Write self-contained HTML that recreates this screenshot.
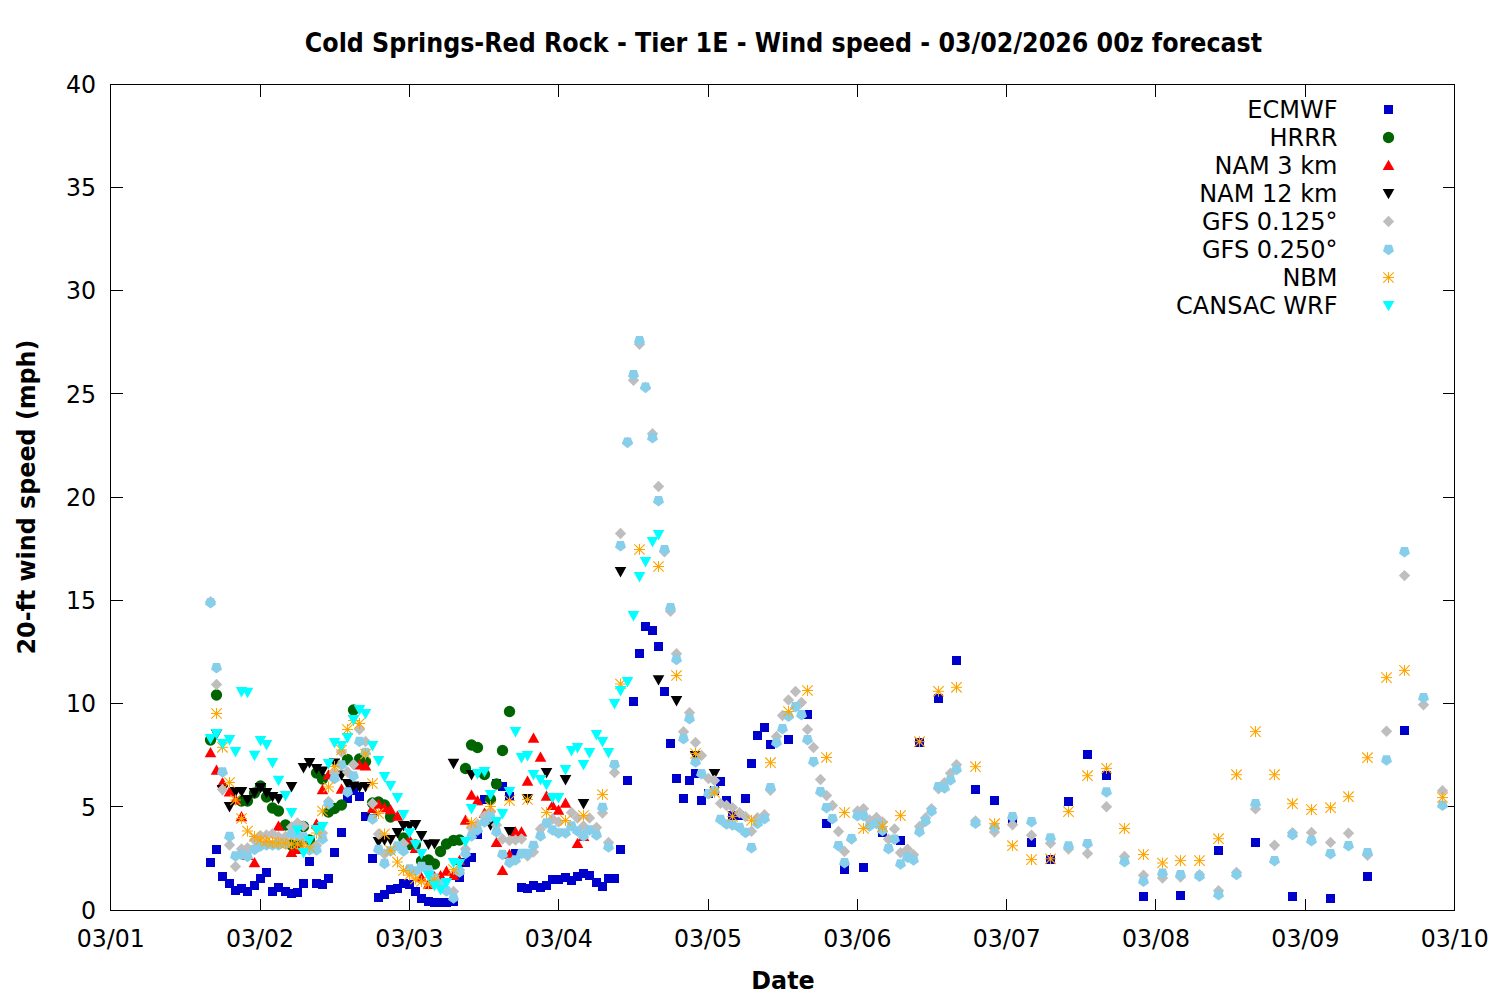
<!DOCTYPE html>
<html><head><meta charset="utf-8"><title>Wind speed forecast</title>
<style>html,body{margin:0;padding:0;background:#fff}svg{display:block}text{font-family:"DejaVu Sans","Liberation Sans",sans-serif;fill:#000}</style></head><body>
<svg width="1500" height="1000" viewBox="0 0 1500 1000">
<rect width="1500" height="1000" fill="#fff"/>
<g stroke="#000" stroke-width="1" fill="none" shape-rendering="crispEdges">
<rect x="110.5" y="84.5" width="1344.0" height="826.0"/>
<path d="M260.5 910.5v-12M260.5 84.5v12"/>
<path d="M409.5 910.5v-12M409.5 84.5v12"/>
<path d="M558.5 910.5v-12M558.5 84.5v12"/>
<path d="M708.5 910.5v-12M708.5 84.5v12"/>
<path d="M857.5 910.5v-12M857.5 84.5v12"/>
<path d="M1006.5 910.5v-12M1006.5 84.5v12"/>
<path d="M1155.5 910.5v-12M1155.5 84.5v12"/>
<path d="M1305.5 910.5v-12M1305.5 84.5v12"/>
<path d="M110.5 806.5h12M1454.5 806.5h-12"/>
<path d="M110.5 703.5h12M1454.5 703.5h-12"/>
<path d="M110.5 600.5h12M1454.5 600.5h-12"/>
<path d="M110.5 497.5h12M1454.5 497.5h-12"/>
<path d="M110.5 393.5h12M1454.5 393.5h-12"/>
<path d="M110.5 290.5h12M1454.5 290.5h-12"/>
<path d="M110.5 187.5h12M1454.5 187.5h-12"/>
</g>
<g font-size="24" text-anchor="end">
<text transform="translate(96.0 918.9) scale(0.985 1.02)">0</text>
<text transform="translate(96.0 815.6) scale(0.985 1.02)">5</text>
<text transform="translate(96.0 712.4) scale(0.985 1.02)">10</text>
<text transform="translate(96.0 609.1) scale(0.985 1.02)">15</text>
<text transform="translate(96.0 505.9) scale(0.985 1.02)">20</text>
<text transform="translate(96.0 402.6) scale(0.985 1.02)">25</text>
<text transform="translate(96.0 299.4) scale(0.985 1.02)">30</text>
<text transform="translate(96.0 196.2) scale(0.985 1.02)">35</text>
<text transform="translate(96.0 92.9) scale(0.985 1.02)">40</text>
</g>
<g font-size="24" text-anchor="middle">
<text transform="translate(110.7 947.1) scale(0.985 1.02)">03/01</text>
<text transform="translate(260.0 947.1) scale(0.985 1.02)">03/02</text>
<text transform="translate(409.4 947.1) scale(0.985 1.02)">03/03</text>
<text transform="translate(558.7 947.1) scale(0.985 1.02)">03/04</text>
<text transform="translate(708.0 947.1) scale(0.985 1.02)">03/05</text>
<text transform="translate(857.4 947.1) scale(0.985 1.02)">03/06</text>
<text transform="translate(1006.7 947.1) scale(0.985 1.02)">03/07</text>
<text transform="translate(1156.0 947.1) scale(0.985 1.02)">03/08</text>
<text transform="translate(1305.4 947.1) scale(0.985 1.02)">03/09</text>
<text transform="translate(1454.7 947.1) scale(0.985 1.02)">03/10</text>
</g>
<text transform="translate(783.5 51.9) scale(1 1.10)" font-size="23.82" font-weight="bold" text-anchor="middle">Cold Springs-Red Rock - Tier 1E - Wind speed - 03/02/2026 00z forecast</text>
<text transform="translate(783 988.8) scale(1 1.04)" font-size="23.82" font-weight="bold" text-anchor="middle">Date</text>
<text transform="translate(34.8 497) rotate(-90) scale(1 1.07)" font-size="23.82" font-weight="bold" text-anchor="middle">20-ft wind speed (mph)</text>
<g font-size="24" text-anchor="end">
<text x="1337.5" y="118">ECMWF</text>
<text x="1337.5" y="146">HRRR</text>
<text x="1337.5" y="174">NAM 3 km</text>
<text x="1337.5" y="202">NAM 12 km</text>
<text x="1337.5" y="230">GFS 0.125°</text>
<text x="1337.5" y="258">GFS 0.250°</text>
<text x="1337.5" y="286">NBM</text>
<text x="1337.5" y="314">CANSAC WRF</text>
</g>
<g fill="#0000cd">
<rect x="1384" y="105" width="9" height="9"/>
<rect x="206" y="858" width="9" height="9"/>
<rect x="212" y="845" width="9" height="9"/>
<rect x="218" y="872" width="9" height="9"/>
<rect x="225" y="879" width="9" height="9"/>
<rect x="231" y="886" width="9" height="9"/>
<rect x="237" y="884" width="9" height="9"/>
<rect x="243" y="887" width="9" height="9"/>
<rect x="250" y="881" width="9" height="9"/>
<rect x="256" y="874" width="9" height="9"/>
<rect x="262" y="868" width="9" height="9"/>
<rect x="268" y="887" width="9" height="9"/>
<rect x="274" y="883" width="9" height="9"/>
<rect x="281" y="887" width="9" height="9"/>
<rect x="287" y="889" width="9" height="9"/>
<rect x="293" y="888" width="9" height="9"/>
<rect x="299" y="879" width="9" height="9"/>
<rect x="305" y="857" width="9" height="9"/>
<rect x="312" y="879" width="9" height="9"/>
<rect x="318" y="880" width="9" height="9"/>
<rect x="324" y="874" width="9" height="9"/>
<rect x="330" y="848" width="9" height="9"/>
<rect x="337" y="828" width="9" height="9"/>
<rect x="343" y="794" width="9" height="9"/>
<rect x="349" y="786" width="9" height="9"/>
<rect x="355" y="792" width="9" height="9"/>
<rect x="361" y="812" width="9" height="9"/>
<rect x="368" y="854" width="9" height="9"/>
<rect x="374" y="893" width="9" height="9"/>
<rect x="380" y="890" width="9" height="9"/>
<rect x="386" y="885" width="9" height="9"/>
<rect x="393" y="884" width="9" height="9"/>
<rect x="399" y="879" width="9" height="9"/>
<rect x="405" y="880" width="9" height="9"/>
<rect x="411" y="887" width="9" height="9"/>
<rect x="417" y="894" width="9" height="9"/>
<rect x="424" y="897" width="9" height="9"/>
<rect x="430" y="898" width="9" height="9"/>
<rect x="436" y="898" width="9" height="9"/>
<rect x="442" y="898" width="9" height="9"/>
<rect x="449" y="897" width="9" height="9"/>
<rect x="455" y="873" width="9" height="9"/>
<rect x="461" y="858" width="9" height="9"/>
<rect x="467" y="853" width="9" height="9"/>
<rect x="473" y="830" width="9" height="9"/>
<rect x="480" y="795" width="9" height="9"/>
<rect x="492" y="779" width="9" height="9"/>
<rect x="498" y="782" width="9" height="9"/>
<rect x="505" y="792" width="9" height="9"/>
<rect x="511" y="849" width="9" height="9"/>
<rect x="517" y="883" width="9" height="9"/>
<rect x="523" y="884" width="9" height="9"/>
<rect x="529" y="881" width="9" height="9"/>
<rect x="536" y="883" width="9" height="9"/>
<rect x="542" y="881" width="9" height="9"/>
<rect x="548" y="875" width="9" height="9"/>
<rect x="554" y="875" width="9" height="9"/>
<rect x="561" y="873" width="9" height="9"/>
<rect x="567" y="876" width="9" height="9"/>
<rect x="573" y="872" width="9" height="9"/>
<rect x="579" y="869" width="9" height="9"/>
<rect x="585" y="871" width="9" height="9"/>
<rect x="592" y="878" width="9" height="9"/>
<rect x="598" y="882" width="9" height="9"/>
<rect x="604" y="874" width="9" height="9"/>
<rect x="610" y="874" width="9" height="9"/>
<rect x="616" y="845" width="9" height="9"/>
<rect x="623" y="776" width="9" height="9"/>
<rect x="629" y="697" width="9" height="9"/>
<rect x="635" y="649" width="9" height="9"/>
<rect x="641" y="622" width="9" height="9"/>
<rect x="648" y="626" width="9" height="9"/>
<rect x="654" y="642" width="9" height="9"/>
<rect x="660" y="687" width="9" height="9"/>
<rect x="666" y="739" width="9" height="9"/>
<rect x="672" y="774" width="9" height="9"/>
<rect x="679" y="794" width="9" height="9"/>
<rect x="685" y="776" width="9" height="9"/>
<rect x="691" y="769" width="9" height="9"/>
<rect x="697" y="796" width="9" height="9"/>
<rect x="704" y="789" width="9" height="9"/>
<rect x="710" y="786" width="9" height="9"/>
<rect x="716" y="777" width="9" height="9"/>
<rect x="722" y="796" width="9" height="9"/>
<rect x="728" y="811" width="9" height="9"/>
<rect x="735" y="811" width="9" height="9"/>
<rect x="741" y="794" width="9" height="9"/>
<rect x="747" y="759" width="9" height="9"/>
<rect x="753" y="731" width="9" height="9"/>
<rect x="760" y="723" width="9" height="9"/>
<rect x="766" y="740" width="9" height="9"/>
<rect x="784" y="735" width="9" height="9"/>
<rect x="803" y="710" width="9" height="9"/>
<rect x="822" y="819" width="9" height="9"/>
<rect x="840" y="865" width="9" height="9"/>
<rect x="859" y="863" width="9" height="9"/>
<rect x="878" y="828" width="9" height="9"/>
<rect x="896" y="836" width="9" height="9"/>
<rect x="915" y="738" width="9" height="9"/>
<rect x="934" y="694" width="9" height="9"/>
<rect x="952" y="656" width="9" height="9"/>
<rect x="971" y="785" width="9" height="9"/>
<rect x="990" y="796" width="9" height="9"/>
<rect x="1008" y="817" width="9" height="9"/>
<rect x="1027" y="838" width="9" height="9"/>
<rect x="1046" y="855" width="9" height="9"/>
<rect x="1064" y="797" width="9" height="9"/>
<rect x="1083" y="750" width="9" height="9"/>
<rect x="1102" y="771" width="9" height="9"/>
<rect x="1139" y="892" width="9" height="9"/>
<rect x="1176" y="891" width="9" height="9"/>
<rect x="1214" y="846" width="9" height="9"/>
<rect x="1251" y="838" width="9" height="9"/>
<rect x="1288" y="892" width="9" height="9"/>
<rect x="1326" y="894" width="9" height="9"/>
<rect x="1363" y="872" width="9" height="9"/>
<rect x="1400" y="726" width="9" height="9"/>
</g>
<g fill="#006400">
<circle cx="1388.5" cy="137.5" r="5.65"/>
<circle cx="210.5" cy="740" r="5.65"/>
<circle cx="216.5" cy="695" r="5.65"/>
<circle cx="241.5" cy="801" r="5.65"/>
<circle cx="247.5" cy="801" r="5.65"/>
<circle cx="254.5" cy="793" r="5.65"/>
<circle cx="260.5" cy="786" r="5.65"/>
<circle cx="266.5" cy="797" r="5.65"/>
<circle cx="272.5" cy="808" r="5.65"/>
<circle cx="278.5" cy="811" r="5.65"/>
<circle cx="285.5" cy="825" r="5.65"/>
<circle cx="291.5" cy="845" r="5.65"/>
<circle cx="297.5" cy="845" r="5.65"/>
<circle cx="303.5" cy="826.5" r="5.65"/>
<circle cx="309.5" cy="840" r="5.65"/>
<circle cx="316.5" cy="773" r="5.65"/>
<circle cx="322.5" cy="779" r="5.65"/>
<circle cx="328.5" cy="812" r="5.65"/>
<circle cx="334.5" cy="808.5" r="5.65"/>
<circle cx="341.5" cy="805" r="5.65"/>
<circle cx="347.5" cy="759.5" r="5.65"/>
<circle cx="353.5" cy="710" r="5.65"/>
<circle cx="359.5" cy="759" r="5.65"/>
<circle cx="365.5" cy="761.5" r="5.65"/>
<circle cx="372.5" cy="803" r="5.65"/>
<circle cx="378.5" cy="802" r="5.65"/>
<circle cx="384.5" cy="805" r="5.65"/>
<circle cx="390.5" cy="817" r="5.65"/>
<circle cx="403.5" cy="838" r="5.65"/>
<circle cx="409.5" cy="844.5" r="5.65"/>
<circle cx="415.5" cy="845" r="5.65"/>
<circle cx="421.5" cy="861" r="5.65"/>
<circle cx="428.5" cy="860" r="5.65"/>
<circle cx="434.5" cy="864" r="5.65"/>
<circle cx="440.5" cy="851.5" r="5.65"/>
<circle cx="446.5" cy="844" r="5.65"/>
<circle cx="453.5" cy="840.5" r="5.65"/>
<circle cx="459.5" cy="840" r="5.65"/>
<circle cx="465.5" cy="768.5" r="5.65"/>
<circle cx="471.5" cy="745" r="5.65"/>
<circle cx="477.5" cy="747.5" r="5.65"/>
<circle cx="484.5" cy="774.5" r="5.65"/>
<circle cx="490.5" cy="799.5" r="5.65"/>
<circle cx="496.5" cy="784" r="5.65"/>
<circle cx="502.5" cy="750.5" r="5.65"/>
<circle cx="509.5" cy="711.5" r="5.65"/>
</g>
<g fill="#ff0000">
<path d="M1388.5 159.7l5.8 10.3h-11.6z"/>
<path d="M210.5 747l5.8 10.3h-11.6z"/>
<path d="M216.5 764.5l5.8 10.3h-11.6z"/>
<path d="M222.5 777l5.8 10.3h-11.6z"/>
<path d="M229.5 786.2l5.8 10.3h-11.6z"/>
<path d="M235.5 794.2l5.8 10.3h-11.6z"/>
<path d="M241.5 811l5.8 10.3h-11.6z"/>
<path d="M247.5 849.7l5.8 10.3h-11.6z"/>
<path d="M254.5 857l5.8 10.3h-11.6z"/>
<path d="M278.5 820.5l5.8 10.3h-11.6z"/>
<path d="M291.5 846.7l5.8 10.3h-11.6z"/>
<path d="M297.5 843.7l5.8 10.3h-11.6z"/>
<path d="M316.5 818.2l5.8 10.3h-11.6z"/>
<path d="M322.5 784l5.8 10.3h-11.6z"/>
<path d="M328.5 769.2l5.8 10.3h-11.6z"/>
<path d="M341.5 783.5l5.8 10.3h-11.6z"/>
<path d="M359.5 759.2l5.8 10.3h-11.6z"/>
<path d="M365.5 760.2l5.8 10.3h-11.6z"/>
<path d="M372.5 802.7l5.8 10.3h-11.6z"/>
<path d="M378.5 798.5l5.8 10.3h-11.6z"/>
<path d="M384.5 802l5.8 10.3h-11.6z"/>
<path d="M390.5 804l5.8 10.3h-11.6z"/>
<path d="M397.5 810.5l5.8 10.3h-11.6z"/>
<path d="M409.5 834.2l5.8 10.3h-11.6z"/>
<path d="M415.5 842.7l5.8 10.3h-11.6z"/>
<path d="M421.5 872l5.8 10.3h-11.6z"/>
<path d="M428.5 878.7l5.8 10.3h-11.6z"/>
<path d="M434.5 871l5.8 10.3h-11.6z"/>
<path d="M440.5 870l5.8 10.3h-11.6z"/>
<path d="M446.5 865.5l5.8 10.3h-11.6z"/>
<path d="M453.5 869.7l5.8 10.3h-11.6z"/>
<path d="M459.5 854.7l5.8 10.3h-11.6z"/>
<path d="M465.5 814.5l5.8 10.3h-11.6z"/>
<path d="M471.5 789.5l5.8 10.3h-11.6z"/>
<path d="M477.5 795l5.8 10.3h-11.6z"/>
<path d="M484.5 807.5l5.8 10.3h-11.6z"/>
<path d="M496.5 836.7l5.8 10.3h-11.6z"/>
<path d="M502.5 864.7l5.8 10.3h-11.6z"/>
<path d="M509.5 848.7l5.8 10.3h-11.6z"/>
<path d="M515.5 826.2l5.8 10.3h-11.6z"/>
<path d="M521.5 826.2l5.8 10.3h-11.6z"/>
<path d="M527.5 775.5l5.8 10.3h-11.6z"/>
<path d="M533.5 732.5l5.8 10.3h-11.6z"/>
<path d="M540.5 751.5l5.8 10.3h-11.6z"/>
<path d="M546.5 790.5l5.8 10.3h-11.6z"/>
<path d="M552.5 799.7l5.8 10.3h-11.6z"/>
<path d="M558.5 804.5l5.8 10.3h-11.6z"/>
<path d="M565.5 797.5l5.8 10.3h-11.6z"/>
<path d="M577.5 837.7l5.8 10.3h-11.6z"/>
<path d="M583.5 830.7l5.8 10.3h-11.6z"/>
</g>
<g fill="#000000">
<path d="M1388.5 199.3l5.8 -10.4h-11.6z"/>
<path d="M216.5 739.7l5.8 -10.4h-11.6z"/>
<path d="M222.5 795.5l5.8 -10.4h-11.6z"/>
<path d="M229.5 812.4l5.8 -10.4h-11.6z"/>
<path d="M235.5 797.4l5.8 -10.4h-11.6z"/>
<path d="M241.5 797.4l5.8 -10.4h-11.6z"/>
<path d="M247.5 805.4l5.8 -10.4h-11.6z"/>
<path d="M254.5 798.4l5.8 -10.4h-11.6z"/>
<path d="M260.5 793.4l5.8 -10.4h-11.6z"/>
<path d="M266.5 798.4l5.8 -10.4h-11.6z"/>
<path d="M272.5 802.4l5.8 -10.4h-11.6z"/>
<path d="M278.5 804.4l5.8 -10.4h-11.6z"/>
<path d="M291.5 792.4l5.8 -10.4h-11.6z"/>
<path d="M303.5 773.4l5.8 -10.4h-11.6z"/>
<path d="M309.5 768.4l5.8 -10.4h-11.6z"/>
<path d="M316.5 774.4l5.8 -10.4h-11.6z"/>
<path d="M322.5 776.8l5.8 -10.4h-11.6z"/>
<path d="M334.5 768.8l5.8 -10.4h-11.6z"/>
<path d="M341.5 780.8l5.8 -10.4h-11.6z"/>
<path d="M347.5 789.4l5.8 -10.4h-11.6z"/>
<path d="M353.5 791.8l5.8 -10.4h-11.6z"/>
<path d="M359.5 792.8l5.8 -10.4h-11.6z"/>
<path d="M365.5 792.4l5.8 -10.4h-11.6z"/>
<path d="M372.5 824.4l5.8 -10.4h-11.6z"/>
<path d="M378.5 847.4l5.8 -10.4h-11.6z"/>
<path d="M384.5 845.8l5.8 -10.4h-11.6z"/>
<path d="M390.5 845.4l5.8 -10.4h-11.6z"/>
<path d="M397.5 838.4l5.8 -10.4h-11.6z"/>
<path d="M403.5 831.4l5.8 -10.4h-11.6z"/>
<path d="M409.5 831.8l5.8 -10.4h-11.6z"/>
<path d="M415.5 830.4l5.8 -10.4h-11.6z"/>
<path d="M421.5 841.4l5.8 -10.4h-11.6z"/>
<path d="M428.5 850.1l5.8 -10.4h-11.6z"/>
<path d="M434.5 849.6l5.8 -10.4h-11.6z"/>
<path d="M453.5 769.2l5.8 -10.4h-11.6z"/>
<path d="M471.5 780.4l5.8 -10.4h-11.6z"/>
<path d="M490.5 830.8l5.8 -10.4h-11.6z"/>
<path d="M509.5 837.4l5.8 -10.4h-11.6z"/>
<path d="M527.5 804.4l5.8 -10.4h-11.6z"/>
<path d="M546.5 778.4l5.8 -10.4h-11.6z"/>
<path d="M565.5 785.4l5.8 -10.4h-11.6z"/>
<path d="M583.5 809.4l5.8 -10.4h-11.6z"/>
<path d="M620.5 577.4l5.8 -10.4h-11.6z"/>
<path d="M658.5 685.6l5.8 -10.4h-11.6z"/>
<path d="M676.5 706.4l5.8 -10.4h-11.6z"/>
<path d="M695.5 761.4l5.8 -10.4h-11.6z"/>
<path d="M714.5 779.4l5.8 -10.4h-11.6z"/>
</g>
<g fill="#bebebe">
<path d="M1388.5 215.8l5.7 5.7l-5.7 5.7l-5.7 -5.7z"/>
<path d="M210.5 596l5.7 5.7l-5.7 5.7l-5.7 -5.7z"/>
<path d="M216.5 678.8l5.7 5.7l-5.7 5.7l-5.7 -5.7z"/>
<path d="M222.5 783.8l5.7 5.7l-5.7 5.7l-5.7 -5.7z"/>
<path d="M229.5 839.3l5.7 5.7l-5.7 5.7l-5.7 -5.7z"/>
<path d="M235.5 860.8l5.7 5.7l-5.7 5.7l-5.7 -5.7z"/>
<path d="M241.5 843.3l5.7 5.7l-5.7 5.7l-5.7 -5.7z"/>
<path d="M247.5 842.3l5.7 5.7l-5.7 5.7l-5.7 -5.7z"/>
<path d="M254.5 834.3l5.7 5.7l-5.7 5.7l-5.7 -5.7z"/>
<path d="M260.5 830.1l5.7 5.7l-5.7 5.7l-5.7 -5.7z"/>
<path d="M266.5 829.2l5.7 5.7l-5.7 5.7l-5.7 -5.7z"/>
<path d="M272.5 828l5.7 5.7l-5.7 5.7l-5.7 -5.7z"/>
<path d="M278.5 831l5.7 5.7l-5.7 5.7l-5.7 -5.7z"/>
<path d="M285.5 830.7l5.7 5.7l-5.7 5.7l-5.7 -5.7z"/>
<path d="M291.5 821.3l5.7 5.7l-5.7 5.7l-5.7 -5.7z"/>
<path d="M297.5 817.3l5.7 5.7l-5.7 5.7l-5.7 -5.7z"/>
<path d="M303.5 820.3l5.7 5.7l-5.7 5.7l-5.7 -5.7z"/>
<path d="M316.5 839.8l5.7 5.7l-5.7 5.7l-5.7 -5.7z"/>
<path d="M322.5 827.3l5.7 5.7l-5.7 5.7l-5.7 -5.7z"/>
<path d="M328.5 795.8l5.7 5.7l-5.7 5.7l-5.7 -5.7z"/>
<path d="M334.5 767.3l5.7 5.7l-5.7 5.7l-5.7 -5.7z"/>
<path d="M341.5 746.3l5.7 5.7l-5.7 5.7l-5.7 -5.7z"/>
<path d="M347.5 766.3l5.7 5.7l-5.7 5.7l-5.7 -5.7z"/>
<path d="M353.5 758.8l5.7 5.7l-5.7 5.7l-5.7 -5.7z"/>
<path d="M359.5 723.8l5.7 5.7l-5.7 5.7l-5.7 -5.7z"/>
<path d="M365.5 735.8l5.7 5.7l-5.7 5.7l-5.7 -5.7z"/>
<path d="M372.5 797.8l5.7 5.7l-5.7 5.7l-5.7 -5.7z"/>
<path d="M378.5 828.3l5.7 5.7l-5.7 5.7l-5.7 -5.7z"/>
<path d="M384.5 848.3l5.7 5.7l-5.7 5.7l-5.7 -5.7z"/>
<path d="M403.5 837.8l5.7 5.7l-5.7 5.7l-5.7 -5.7z"/>
<path d="M453.5 885.8l5.7 5.7l-5.7 5.7l-5.7 -5.7z"/>
<path d="M459.5 864.3l5.7 5.7l-5.7 5.7l-5.7 -5.7z"/>
<path d="M465.5 843.3l5.7 5.7l-5.7 5.7l-5.7 -5.7z"/>
<path d="M471.5 822.3l5.7 5.7l-5.7 5.7l-5.7 -5.7z"/>
<path d="M477.5 818.3l5.7 5.7l-5.7 5.7l-5.7 -5.7z"/>
<path d="M484.5 810.3l5.7 5.7l-5.7 5.7l-5.7 -5.7z"/>
<path d="M490.5 806.3l5.7 5.7l-5.7 5.7l-5.7 -5.7z"/>
<path d="M496.5 819.3l5.7 5.7l-5.7 5.7l-5.7 -5.7z"/>
<path d="M502.5 833.3l5.7 5.7l-5.7 5.7l-5.7 -5.7z"/>
<path d="M509.5 834.8l5.7 5.7l-5.7 5.7l-5.7 -5.7z"/>
<path d="M515.5 834.3l5.7 5.7l-5.7 5.7l-5.7 -5.7z"/>
<path d="M521.5 833.3l5.7 5.7l-5.7 5.7l-5.7 -5.7z"/>
<path d="M527.5 850.3l5.7 5.7l-5.7 5.7l-5.7 -5.7z"/>
<path d="M533.5 846.3l5.7 5.7l-5.7 5.7l-5.7 -5.7z"/>
<path d="M540.5 823.3l5.7 5.7l-5.7 5.7l-5.7 -5.7z"/>
<path d="M552.5 813.3l5.7 5.7l-5.7 5.7l-5.7 -5.7z"/>
<path d="M558.5 816.3l5.7 5.7l-5.7 5.7l-5.7 -5.7z"/>
<path d="M571.5 806.8l5.7 5.7l-5.7 5.7l-5.7 -5.7z"/>
<path d="M577.5 812.3l5.7 5.7l-5.7 5.7l-5.7 -5.7z"/>
<path d="M583.5 820.3l5.7 5.7l-5.7 5.7l-5.7 -5.7z"/>
<path d="M589.5 812.3l5.7 5.7l-5.7 5.7l-5.7 -5.7z"/>
<path d="M596.5 821.8l5.7 5.7l-5.7 5.7l-5.7 -5.7z"/>
<path d="M602.5 807.3l5.7 5.7l-5.7 5.7l-5.7 -5.7z"/>
<path d="M608.5 836.8l5.7 5.7l-5.7 5.7l-5.7 -5.7z"/>
<path d="M614.5 766.8l5.7 5.7l-5.7 5.7l-5.7 -5.7z"/>
<path d="M620.5 527.8l5.7 5.7l-5.7 5.7l-5.7 -5.7z"/>
<path d="M627.5 436.8l5.7 5.7l-5.7 5.7l-5.7 -5.7z"/>
<path d="M633.5 374.6l5.7 5.7l-5.7 5.7l-5.7 -5.7z"/>
<path d="M639.5 338.6l5.7 5.7l-5.7 5.7l-5.7 -5.7z"/>
<path d="M645.5 381.8l5.7 5.7l-5.7 5.7l-5.7 -5.7z"/>
<path d="M652.5 428l5.7 5.7l-5.7 5.7l-5.7 -5.7z"/>
<path d="M658.5 480.8l5.7 5.7l-5.7 5.7l-5.7 -5.7z"/>
<path d="M664.5 546l5.7 5.7l-5.7 5.7l-5.7 -5.7z"/>
<path d="M670.5 605.6l5.7 5.7l-5.7 5.7l-5.7 -5.7z"/>
<path d="M676.5 648l5.7 5.7l-5.7 5.7l-5.7 -5.7z"/>
<path d="M683.5 726l5.7 5.7l-5.7 5.7l-5.7 -5.7z"/>
<path d="M689.5 707l5.7 5.7l-5.7 5.7l-5.7 -5.7z"/>
<path d="M695.5 736.8l5.7 5.7l-5.7 5.7l-5.7 -5.7z"/>
<path d="M701.5 749.8l5.7 5.7l-5.7 5.7l-5.7 -5.7z"/>
<path d="M708.5 772.8l5.7 5.7l-5.7 5.7l-5.7 -5.7z"/>
<path d="M714.5 774.8l5.7 5.7l-5.7 5.7l-5.7 -5.7z"/>
<path d="M720.5 797.7l5.7 5.7l-5.7 5.7l-5.7 -5.7z"/>
<path d="M726.5 799.8l5.7 5.7l-5.7 5.7l-5.7 -5.7z"/>
<path d="M732.5 801.9l5.7 5.7l-5.7 5.7l-5.7 -5.7z"/>
<path d="M739.5 807l5.7 5.7l-5.7 5.7l-5.7 -5.7z"/>
<path d="M745.5 810.9l5.7 5.7l-5.7 5.7l-5.7 -5.7z"/>
<path d="M751.5 825.6l5.7 5.7l-5.7 5.7l-5.7 -5.7z"/>
<path d="M757.5 812.1l5.7 5.7l-5.7 5.7l-5.7 -5.7z"/>
<path d="M764.5 809.1l5.7 5.7l-5.7 5.7l-5.7 -5.7z"/>
<path d="M770.5 784.6l5.7 5.7l-5.7 5.7l-5.7 -5.7z"/>
<path d="M776.5 730.8l5.7 5.7l-5.7 5.7l-5.7 -5.7z"/>
<path d="M782.5 709.8l5.7 5.7l-5.7 5.7l-5.7 -5.7z"/>
<path d="M788.5 694.3l5.7 5.7l-5.7 5.7l-5.7 -5.7z"/>
<path d="M795.5 685.8l5.7 5.7l-5.7 5.7l-5.7 -5.7z"/>
<path d="M801.5 696.8l5.7 5.7l-5.7 5.7l-5.7 -5.7z"/>
<path d="M807.5 723.8l5.7 5.7l-5.7 5.7l-5.7 -5.7z"/>
<path d="M813.5 741.8l5.7 5.7l-5.7 5.7l-5.7 -5.7z"/>
<path d="M820.5 773.8l5.7 5.7l-5.7 5.7l-5.7 -5.7z"/>
<path d="M826.5 789.8l5.7 5.7l-5.7 5.7l-5.7 -5.7z"/>
<path d="M832.5 799.8l5.7 5.7l-5.7 5.7l-5.7 -5.7z"/>
<path d="M838.5 825.8l5.7 5.7l-5.7 5.7l-5.7 -5.7z"/>
<path d="M844.5 845.8l5.7 5.7l-5.7 5.7l-5.7 -5.7z"/>
<path d="M851.5 833.3l5.7 5.7l-5.7 5.7l-5.7 -5.7z"/>
<path d="M857.5 805.3l5.7 5.7l-5.7 5.7l-5.7 -5.7z"/>
<path d="M863.5 803l5.7 5.7l-5.7 5.7l-5.7 -5.7z"/>
<path d="M869.5 814.3l5.7 5.7l-5.7 5.7l-5.7 -5.7z"/>
<path d="M876.5 811.8l5.7 5.7l-5.7 5.7l-5.7 -5.7z"/>
<path d="M882.5 816.3l5.7 5.7l-5.7 5.7l-5.7 -5.7z"/>
<path d="M888.5 833.6l5.7 5.7l-5.7 5.7l-5.7 -5.7z"/>
<path d="M894.5 823.3l5.7 5.7l-5.7 5.7l-5.7 -5.7z"/>
<path d="M900.5 847l5.7 5.7l-5.7 5.7l-5.7 -5.7z"/>
<path d="M907.5 843.6l5.7 5.7l-5.7 5.7l-5.7 -5.7z"/>
<path d="M913.5 849l5.7 5.7l-5.7 5.7l-5.7 -5.7z"/>
<path d="M919.5 820.7l5.7 5.7l-5.7 5.7l-5.7 -5.7z"/>
<path d="M925.5 812.3l5.7 5.7l-5.7 5.7l-5.7 -5.7z"/>
<path d="M931.5 803l5.7 5.7l-5.7 5.7l-5.7 -5.7z"/>
<path d="M938.5 783l5.7 5.7l-5.7 5.7l-5.7 -5.7z"/>
<path d="M944.5 777l5.7 5.7l-5.7 5.7l-5.7 -5.7z"/>
<path d="M950.5 767.6l5.7 5.7l-5.7 5.7l-5.7 -5.7z"/>
<path d="M956.5 759l5.7 5.7l-5.7 5.7l-5.7 -5.7z"/>
<path d="M975.5 815.3l5.7 5.7l-5.7 5.7l-5.7 -5.7z"/>
<path d="M994.5 826.3l5.7 5.7l-5.7 5.7l-5.7 -5.7z"/>
<path d="M1012.5 819l5.7 5.7l-5.7 5.7l-5.7 -5.7z"/>
<path d="M1031.5 829.6l5.7 5.7l-5.7 5.7l-5.7 -5.7z"/>
<path d="M1050.5 837.6l5.7 5.7l-5.7 5.7l-5.7 -5.7z"/>
<path d="M1068.5 843.3l5.7 5.7l-5.7 5.7l-5.7 -5.7z"/>
<path d="M1087.5 847.8l5.7 5.7l-5.7 5.7l-5.7 -5.7z"/>
<path d="M1106.5 801l5.7 5.7l-5.7 5.7l-5.7 -5.7z"/>
<path d="M1124.5 850.8l5.7 5.7l-5.7 5.7l-5.7 -5.7z"/>
<path d="M1143.5 869.6l5.7 5.7l-5.7 5.7l-5.7 -5.7z"/>
<path d="M1162.5 872.3l5.7 5.7l-5.7 5.7l-5.7 -5.7z"/>
<path d="M1180.5 871.3l5.7 5.7l-5.7 5.7l-5.7 -5.7z"/>
<path d="M1199.5 869l5.7 5.7l-5.7 5.7l-5.7 -5.7z"/>
<path d="M1218.5 885l5.7 5.7l-5.7 5.7l-5.7 -5.7z"/>
<path d="M1236.5 866.8l5.7 5.7l-5.7 5.7l-5.7 -5.7z"/>
<path d="M1255.5 803.2l5.7 5.7l-5.7 5.7l-5.7 -5.7z"/>
<path d="M1274.5 839.6l5.7 5.7l-5.7 5.7l-5.7 -5.7z"/>
<path d="M1292.5 827l5.7 5.7l-5.7 5.7l-5.7 -5.7z"/>
<path d="M1311.5 826.7l5.7 5.7l-5.7 5.7l-5.7 -5.7z"/>
<path d="M1330.5 836.7l5.7 5.7l-5.7 5.7l-5.7 -5.7z"/>
<path d="M1348.5 827.6l5.7 5.7l-5.7 5.7l-5.7 -5.7z"/>
<path d="M1367.5 849.6l5.7 5.7l-5.7 5.7l-5.7 -5.7z"/>
<path d="M1386.5 725.6l5.7 5.7l-5.7 5.7l-5.7 -5.7z"/>
<path d="M1404.5 569.9l5.7 5.7l-5.7 5.7l-5.7 -5.7z"/>
<path d="M1423.5 699l5.7 5.7l-5.7 5.7l-5.7 -5.7z"/>
<path d="M1442.5 785l5.7 5.7l-5.7 5.7l-5.7 -5.7z"/>
</g>
<g fill="#87ceeb">
<path d="M1388.5 255.3l5.5 -4l-2.1 -6.5h-6.8l-2.1 6.5z"/>
<path d="M210.5 608.5l5.5 -4l-2.1 -6.5h-6.8l-2.1 6.5z"/>
<path d="M216.5 673.5l5.5 -4l-2.1 -6.5h-6.8l-2.1 6.5z"/>
<path d="M222.5 777.8l5.5 -4l-2.1 -6.5h-6.8l-2.1 6.5z"/>
<path d="M229.5 842.3l5.5 -4l-2.1 -6.5h-6.8l-2.1 6.5z"/>
<path d="M235.5 861.8l5.5 -4l-2.1 -6.5h-6.8l-2.1 6.5z"/>
<path d="M241.5 860.3l5.5 -4l-2.1 -6.5h-6.8l-2.1 6.5z"/>
<path d="M247.5 862.3l5.5 -4l-2.1 -6.5h-6.8l-2.1 6.5z"/>
<path d="M254.5 855.3l5.5 -4l-2.1 -6.5h-6.8l-2.1 6.5z"/>
<path d="M260.5 851.8l5.5 -4l-2.1 -6.5h-6.8l-2.1 6.5z"/>
<path d="M266.5 850.8l5.5 -4l-2.1 -6.5h-6.8l-2.1 6.5z"/>
<path d="M272.5 850.8l5.5 -4l-2.1 -6.5h-6.8l-2.1 6.5z"/>
<path d="M278.5 850.8l5.5 -4l-2.1 -6.5h-6.8l-2.1 6.5z"/>
<path d="M285.5 849.8l5.5 -4l-2.1 -6.5h-6.8l-2.1 6.5z"/>
<path d="M291.5 839.8l5.5 -4l-2.1 -6.5h-6.8l-2.1 6.5z"/>
<path d="M297.5 841.8l5.5 -4l-2.1 -6.5h-6.8l-2.1 6.5z"/>
<path d="M303.5 842.8l5.5 -4l-2.1 -6.5h-6.8l-2.1 6.5z"/>
<path d="M309.5 855.8l5.5 -4l-2.1 -6.5h-6.8l-2.1 6.5z"/>
<path d="M316.5 855.8l5.5 -4l-2.1 -6.5h-6.8l-2.1 6.5z"/>
<path d="M322.5 844.8l5.5 -4l-2.1 -6.5h-6.8l-2.1 6.5z"/>
<path d="M328.5 809.8l5.5 -4l-2.1 -6.5h-6.8l-2.1 6.5z"/>
<path d="M334.5 784.3l5.5 -4l-2.1 -6.5h-6.8l-2.1 6.5z"/>
<path d="M341.5 770.8l5.5 -4l-2.1 -6.5h-6.8l-2.1 6.5z"/>
<path d="M347.5 797.8l5.5 -4l-2.1 -6.5h-6.8l-2.1 6.5z"/>
<path d="M353.5 781.8l5.5 -4l-2.1 -6.5h-6.8l-2.1 6.5z"/>
<path d="M359.5 747.3l5.5 -4l-2.1 -6.5h-6.8l-2.1 6.5z"/>
<path d="M365.5 758.3l5.5 -4l-2.1 -6.5h-6.8l-2.1 6.5z"/>
<path d="M372.5 824.8l5.5 -4l-2.1 -6.5h-6.8l-2.1 6.5z"/>
<path d="M378.5 855.3l5.5 -4l-2.1 -6.5h-6.8l-2.1 6.5z"/>
<path d="M384.5 869.3l5.5 -4l-2.1 -6.5h-6.8l-2.1 6.5z"/>
<path d="M390.5 856.8l5.5 -4l-2.1 -6.5h-6.8l-2.1 6.5z"/>
<path d="M397.5 851.8l5.5 -4l-2.1 -6.5h-6.8l-2.1 6.5z"/>
<path d="M403.5 856.8l5.5 -4l-2.1 -6.5h-6.8l-2.1 6.5z"/>
<path d="M409.5 874.8l5.5 -4l-2.1 -6.5h-6.8l-2.1 6.5z"/>
<path d="M415.5 876.8l5.5 -4l-2.1 -6.5h-6.8l-2.1 6.5z"/>
<path d="M421.5 872.3l5.5 -4l-2.1 -6.5h-6.8l-2.1 6.5z"/>
<path d="M428.5 875.8l5.5 -4l-2.1 -6.5h-6.8l-2.1 6.5z"/>
<path d="M434.5 883.8l5.5 -4l-2.1 -6.5h-6.8l-2.1 6.5z"/>
<path d="M440.5 889.8l5.5 -4l-2.1 -6.5h-6.8l-2.1 6.5z"/>
<path d="M446.5 896.8l5.5 -4l-2.1 -6.5h-6.8l-2.1 6.5z"/>
<path d="M453.5 903.8l5.5 -4l-2.1 -6.5h-6.8l-2.1 6.5z"/>
<path d="M459.5 877.8l5.5 -4l-2.1 -6.5h-6.8l-2.1 6.5z"/>
<path d="M465.5 859.3l5.5 -4l-2.1 -6.5h-6.8l-2.1 6.5z"/>
<path d="M471.5 841.8l5.5 -4l-2.1 -6.5h-6.8l-2.1 6.5z"/>
<path d="M477.5 835.8l5.5 -4l-2.1 -6.5h-6.8l-2.1 6.5z"/>
<path d="M484.5 827.8l5.5 -4l-2.1 -6.5h-6.8l-2.1 6.5z"/>
<path d="M490.5 822.8l5.5 -4l-2.1 -6.5h-6.8l-2.1 6.5z"/>
<path d="M496.5 837.8l5.5 -4l-2.1 -6.5h-6.8l-2.1 6.5z"/>
<path d="M502.5 860.3l5.5 -4l-2.1 -6.5h-6.8l-2.1 6.5z"/>
<path d="M509.5 868.3l5.5 -4l-2.1 -6.5h-6.8l-2.1 6.5z"/>
<path d="M515.5 865.8l5.5 -4l-2.1 -6.5h-6.8l-2.1 6.5z"/>
<path d="M521.5 859.3l5.5 -4l-2.1 -6.5h-6.8l-2.1 6.5z"/>
<path d="M527.5 859.3l5.5 -4l-2.1 -6.5h-6.8l-2.1 6.5z"/>
<path d="M533.5 851.3l5.5 -4l-2.1 -6.5h-6.8l-2.1 6.5z"/>
<path d="M540.5 841.8l5.5 -4l-2.1 -6.5h-6.8l-2.1 6.5z"/>
<path d="M546.5 828.8l5.5 -4l-2.1 -6.5h-6.8l-2.1 6.5z"/>
<path d="M552.5 835.8l5.5 -4l-2.1 -6.5h-6.8l-2.1 6.5z"/>
<path d="M558.5 838.8l5.5 -4l-2.1 -6.5h-6.8l-2.1 6.5z"/>
<path d="M565.5 838.8l5.5 -4l-2.1 -6.5h-6.8l-2.1 6.5z"/>
<path d="M571.5 831.8l5.5 -4l-2.1 -6.5h-6.8l-2.1 6.5z"/>
<path d="M577.5 836.8l5.5 -4l-2.1 -6.5h-6.8l-2.1 6.5z"/>
<path d="M583.5 841.8l5.5 -4l-2.1 -6.5h-6.8l-2.1 6.5z"/>
<path d="M589.5 835.8l5.5 -4l-2.1 -6.5h-6.8l-2.1 6.5z"/>
<path d="M596.5 840.8l5.5 -4l-2.1 -6.5h-6.8l-2.1 6.5z"/>
<path d="M602.5 813.3l5.5 -4l-2.1 -6.5h-6.8l-2.1 6.5z"/>
<path d="M608.5 852.8l5.5 -4l-2.1 -6.5h-6.8l-2.1 6.5z"/>
<path d="M614.5 770.5l5.5 -4l-2.1 -6.5h-6.8l-2.1 6.5z"/>
<path d="M620.5 551.5l5.5 -4l-2.1 -6.5h-6.8l-2.1 6.5z"/>
<path d="M627.5 448l5.5 -4l-2.1 -6.5h-6.8l-2.1 6.5z"/>
<path d="M633.5 380.5l5.5 -4l-2.1 -6.5h-6.8l-2.1 6.5z"/>
<path d="M639.5 346.5l5.5 -4l-2.1 -6.5h-6.8l-2.1 6.5z"/>
<path d="M645.5 393l5.5 -4l-2.1 -6.5h-6.8l-2.1 6.5z"/>
<path d="M652.5 443.5l5.5 -4l-2.1 -6.5h-6.8l-2.1 6.5z"/>
<path d="M658.5 506.5l5.5 -4l-2.1 -6.5h-6.8l-2.1 6.5z"/>
<path d="M664.5 555.5l5.5 -4l-2.1 -6.5h-6.8l-2.1 6.5z"/>
<path d="M670.5 613.6l5.5 -4l-2.1 -6.5h-6.8l-2.1 6.5z"/>
<path d="M676.5 665.3l5.5 -4l-2.1 -6.5h-6.8l-2.1 6.5z"/>
<path d="M683.5 744.5l5.5 -4l-2.1 -6.5h-6.8l-2.1 6.5z"/>
<path d="M689.5 724.5l5.5 -4l-2.1 -6.5h-6.8l-2.1 6.5z"/>
<path d="M695.5 767.8l5.5 -4l-2.1 -6.5h-6.8l-2.1 6.5z"/>
<path d="M701.5 779.6l5.5 -4l-2.1 -6.5h-6.8l-2.1 6.5z"/>
<path d="M708.5 799.6l5.5 -4l-2.1 -6.5h-6.8l-2.1 6.5z"/>
<path d="M714.5 796.5l5.5 -4l-2.1 -6.5h-6.8l-2.1 6.5z"/>
<path d="M720.5 825.3l5.5 -4l-2.1 -6.5h-6.8l-2.1 6.5z"/>
<path d="M726.5 829.8l5.5 -4l-2.1 -6.5h-6.8l-2.1 6.5z"/>
<path d="M732.5 830.8l5.5 -4l-2.1 -6.5h-6.8l-2.1 6.5z"/>
<path d="M739.5 833.3l5.5 -4l-2.1 -6.5h-6.8l-2.1 6.5z"/>
<path d="M745.5 838.3l5.5 -4l-2.1 -6.5h-6.8l-2.1 6.5z"/>
<path d="M751.5 853.6l5.5 -4l-2.1 -6.5h-6.8l-2.1 6.5z"/>
<path d="M757.5 829.3l5.5 -4l-2.1 -6.5h-6.8l-2.1 6.5z"/>
<path d="M764.5 824.5l5.5 -4l-2.1 -6.5h-6.8l-2.1 6.5z"/>
<path d="M770.5 793.5l5.5 -4l-2.1 -6.5h-6.8l-2.1 6.5z"/>
<path d="M776.5 748.5l5.5 -4l-2.1 -6.5h-6.8l-2.1 6.5z"/>
<path d="M782.5 734.5l5.5 -4l-2.1 -6.5h-6.8l-2.1 6.5z"/>
<path d="M788.5 722l5.5 -4l-2.1 -6.5h-6.8l-2.1 6.5z"/>
<path d="M795.5 712.5l5.5 -4l-2.1 -6.5h-6.8l-2.1 6.5z"/>
<path d="M801.5 720.5l5.5 -4l-2.1 -6.5h-6.8l-2.1 6.5z"/>
<path d="M807.5 745.5l5.5 -4l-2.1 -6.5h-6.8l-2.1 6.5z"/>
<path d="M813.5 767.5l5.5 -4l-2.1 -6.5h-6.8l-2.1 6.5z"/>
<path d="M820.5 797.5l5.5 -4l-2.1 -6.5h-6.8l-2.1 6.5z"/>
<path d="M826.5 813.5l5.5 -4l-2.1 -6.5h-6.8l-2.1 6.5z"/>
<path d="M832.5 824.5l5.5 -4l-2.1 -6.5h-6.8l-2.1 6.5z"/>
<path d="M838.5 851.4l5.5 -4l-2.1 -6.5h-6.8l-2.1 6.5z"/>
<path d="M844.5 868.5l5.5 -4l-2.1 -6.5h-6.8l-2.1 6.5z"/>
<path d="M851.5 844.4l5.5 -4l-2.1 -6.5h-6.8l-2.1 6.5z"/>
<path d="M857.5 821.5l5.5 -4l-2.1 -6.5h-6.8l-2.1 6.5z"/>
<path d="M863.5 821.5l5.5 -4l-2.1 -6.5h-6.8l-2.1 6.5z"/>
<path d="M869.5 831.8l5.5 -4l-2.1 -6.5h-6.8l-2.1 6.5z"/>
<path d="M876.5 829.3l5.5 -4l-2.1 -6.5h-6.8l-2.1 6.5z"/>
<path d="M882.5 836.3l5.5 -4l-2.1 -6.5h-6.8l-2.1 6.5z"/>
<path d="M888.5 854.5l5.5 -4l-2.1 -6.5h-6.8l-2.1 6.5z"/>
<path d="M894.5 845.1l5.5 -4l-2.1 -6.5h-6.8l-2.1 6.5z"/>
<path d="M900.5 869.8l5.5 -4l-2.1 -6.5h-6.8l-2.1 6.5z"/>
<path d="M907.5 863.1l5.5 -4l-2.1 -6.5h-6.8l-2.1 6.5z"/>
<path d="M913.5 865.8l5.5 -4l-2.1 -6.5h-6.8l-2.1 6.5z"/>
<path d="M919.5 837.5l5.5 -4l-2.1 -6.5h-6.8l-2.1 6.5z"/>
<path d="M925.5 827.1l5.5 -4l-2.1 -6.5h-6.8l-2.1 6.5z"/>
<path d="M931.5 817.1l5.5 -4l-2.1 -6.5h-6.8l-2.1 6.5z"/>
<path d="M938.5 792.5l5.5 -4l-2.1 -6.5h-6.8l-2.1 6.5z"/>
<path d="M944.5 793.8l5.5 -4l-2.1 -6.5h-6.8l-2.1 6.5z"/>
<path d="M950.5 785.8l5.5 -4l-2.1 -6.5h-6.8l-2.1 6.5z"/>
<path d="M956.5 775.3l5.5 -4l-2.1 -6.5h-6.8l-2.1 6.5z"/>
<path d="M975.5 829.1l5.5 -4l-2.1 -6.5h-6.8l-2.1 6.5z"/>
<path d="M994.5 833.1l5.5 -4l-2.1 -6.5h-6.8l-2.1 6.5z"/>
<path d="M1012.5 822.5l5.5 -4l-2.1 -6.5h-6.8l-2.1 6.5z"/>
<path d="M1031.5 827.4l5.5 -4l-2.1 -6.5h-6.8l-2.1 6.5z"/>
<path d="M1050.5 843.8l5.5 -4l-2.1 -6.5h-6.8l-2.1 6.5z"/>
<path d="M1068.5 851.8l5.5 -4l-2.1 -6.5h-6.8l-2.1 6.5z"/>
<path d="M1087.5 849.4l5.5 -4l-2.1 -6.5h-6.8l-2.1 6.5z"/>
<path d="M1106.5 797.8l5.5 -4l-2.1 -6.5h-6.8l-2.1 6.5z"/>
<path d="M1124.5 867.5l5.5 -4l-2.1 -6.5h-6.8l-2.1 6.5z"/>
<path d="M1143.5 887.1l5.5 -4l-2.1 -6.5h-6.8l-2.1 6.5z"/>
<path d="M1162.5 879.1l5.5 -4l-2.1 -6.5h-6.8l-2.1 6.5z"/>
<path d="M1180.5 880.5l5.5 -4l-2.1 -6.5h-6.8l-2.1 6.5z"/>
<path d="M1199.5 882.1l5.5 -4l-2.1 -6.5h-6.8l-2.1 6.5z"/>
<path d="M1218.5 900.5l5.5 -4l-2.1 -6.5h-6.8l-2.1 6.5z"/>
<path d="M1236.5 880.3l5.5 -4l-2.1 -6.5h-6.8l-2.1 6.5z"/>
<path d="M1255.5 809.6l5.5 -4l-2.1 -6.5h-6.8l-2.1 6.5z"/>
<path d="M1274.5 866.5l5.5 -4l-2.1 -6.5h-6.8l-2.1 6.5z"/>
<path d="M1292.5 840.5l5.5 -4l-2.1 -6.5h-6.8l-2.1 6.5z"/>
<path d="M1311.5 846.5l5.5 -4l-2.1 -6.5h-6.8l-2.1 6.5z"/>
<path d="M1330.5 859.5l5.5 -4l-2.1 -6.5h-6.8l-2.1 6.5z"/>
<path d="M1348.5 851.5l5.5 -4l-2.1 -6.5h-6.8l-2.1 6.5z"/>
<path d="M1367.5 858.5l5.5 -4l-2.1 -6.5h-6.8l-2.1 6.5z"/>
<path d="M1386.5 765.8l5.5 -4l-2.1 -6.5h-6.8l-2.1 6.5z"/>
<path d="M1404.5 557.4l5.5 -4l-2.1 -6.5h-6.8l-2.1 6.5z"/>
<path d="M1423.5 703.4l5.5 -4l-2.1 -6.5h-6.8l-2.1 6.5z"/>
<path d="M1442.5 811.1l5.5 -4l-2.1 -6.5h-6.8l-2.1 6.5z"/>
</g>
<g fill="none" stroke="#ffa500" stroke-width="1">
<path d="M1383 277.5h11M1388.5 272v11"/><path stroke-width="1.15" d="M1383.3 272.3l10.4 10.4M1383.3 282.7l10.4 -10.4"/>
<path d="M211 713.5h11M216.5 708v11"/><path stroke-width="1.15" d="M211.3 708.3l10.4 10.4M211.3 718.7l10.4 -10.4"/>
<path d="M217 747.3h11M222.5 741.8v11"/><path stroke-width="1.15" d="M217.3 742.1l10.4 10.4M217.3 752.5l10.4 -10.4"/>
<path d="M224 782.5h11M229.5 777v11"/><path stroke-width="1.15" d="M224.3 777.3l10.4 10.4M224.3 787.7l10.4 -10.4"/>
<path d="M230 800h11M235.5 794.5v11"/><path stroke-width="1.15" d="M230.3 794.8l10.4 10.4M230.3 805.2l10.4 -10.4"/>
<path d="M236 818.5h11M241.5 813v11"/><path stroke-width="1.15" d="M236.3 813.3l10.4 10.4M236.3 823.7l10.4 -10.4"/>
<path d="M242 831h11M247.5 825.5v11"/><path stroke-width="1.15" d="M242.3 825.8l10.4 10.4M242.3 836.2l10.4 -10.4"/>
<path d="M249 836.5h11M254.5 831v11"/><path stroke-width="1.15" d="M249.3 831.3l10.4 10.4M249.3 841.7l10.4 -10.4"/>
<path d="M255 840h11M260.5 834.5v11"/><path stroke-width="1.15" d="M255.3 834.8l10.4 10.4M255.3 845.2l10.4 -10.4"/>
<path d="M261 841.5h11M266.5 836v11"/><path stroke-width="1.15" d="M261.3 836.3l10.4 10.4M261.3 846.7l10.4 -10.4"/>
<path d="M267 842.5h11M272.5 837v11"/><path stroke-width="1.15" d="M267.3 837.3l10.4 10.4M267.3 847.7l10.4 -10.4"/>
<path d="M273 843h11M278.5 837.5v11"/><path stroke-width="1.15" d="M273.3 837.8l10.4 10.4M273.3 848.2l10.4 -10.4"/>
<path d="M280 843.5h11M285.5 838v11"/><path stroke-width="1.15" d="M280.3 838.3l10.4 10.4M280.3 848.7l10.4 -10.4"/>
<path d="M286 844h11M291.5 838.5v11"/><path stroke-width="1.15" d="M286.3 838.8l10.4 10.4M286.3 849.2l10.4 -10.4"/>
<path d="M292 844h11M297.5 838.5v11"/><path stroke-width="1.15" d="M292.3 838.8l10.4 10.4M292.3 849.2l10.4 -10.4"/>
<path d="M298 845h11M303.5 839.5v11"/><path stroke-width="1.15" d="M298.3 839.8l10.4 10.4M298.3 850.2l10.4 -10.4"/>
<path d="M304 847h11M309.5 841.5v11"/><path stroke-width="1.15" d="M304.3 841.8l10.4 10.4M304.3 852.2l10.4 -10.4"/>
<path d="M311 833h11M316.5 827.5v11"/><path stroke-width="1.15" d="M311.3 827.8l10.4 10.4M311.3 838.2l10.4 -10.4"/>
<path d="M317 811h11M322.5 805.5v11"/><path stroke-width="1.15" d="M317.3 805.8l10.4 10.4M317.3 816.2l10.4 -10.4"/>
<path d="M323 787h11M328.5 781.5v11"/><path stroke-width="1.15" d="M323.3 781.8l10.4 10.4M323.3 792.2l10.4 -10.4"/>
<path d="M329 766.5h11M334.5 761v11"/><path stroke-width="1.15" d="M329.3 761.3l10.4 10.4M329.3 771.7l10.4 -10.4"/>
<path d="M336 750h11M341.5 744.5v11"/><path stroke-width="1.15" d="M336.3 744.8l10.4 10.4M336.3 755.2l10.4 -10.4"/>
<path d="M342 729.5h11M347.5 724v11"/><path stroke-width="1.15" d="M342.3 724.3l10.4 10.4M342.3 734.7l10.4 -10.4"/>
<path d="M348 720.5h11M353.5 715v11"/><path stroke-width="1.15" d="M348.3 715.3l10.4 10.4M348.3 725.7l10.4 -10.4"/>
<path d="M354 723.5h11M359.5 718v11"/><path stroke-width="1.15" d="M354.3 718.3l10.4 10.4M354.3 728.7l10.4 -10.4"/>
<path d="M360 754h11M365.5 748.5v11"/><path stroke-width="1.15" d="M360.3 748.8l10.4 10.4M360.3 759.2l10.4 -10.4"/>
<path d="M367 783.5h11M372.5 778v11"/><path stroke-width="1.15" d="M367.3 778.3l10.4 10.4M367.3 788.7l10.4 -10.4"/>
<path d="M373 813.5h11M378.5 808v11"/><path stroke-width="1.15" d="M373.3 808.3l10.4 10.4M373.3 818.7l10.4 -10.4"/>
<path d="M379 834h11M384.5 828.5v11"/><path stroke-width="1.15" d="M379.3 828.8l10.4 10.4M379.3 839.2l10.4 -10.4"/>
<path d="M385 850.5h11M390.5 845v11"/><path stroke-width="1.15" d="M385.3 845.3l10.4 10.4M385.3 855.7l10.4 -10.4"/>
<path d="M392 862h11M397.5 856.5v11"/><path stroke-width="1.15" d="M392.3 856.8l10.4 10.4M392.3 867.2l10.4 -10.4"/>
<path d="M398 870.5h11M403.5 865v11"/><path stroke-width="1.15" d="M398.3 865.3l10.4 10.4M398.3 875.7l10.4 -10.4"/>
<path d="M404 875h11M409.5 869.5v11"/><path stroke-width="1.15" d="M404.3 869.8l10.4 10.4M404.3 880.2l10.4 -10.4"/>
<path d="M410 879h11M415.5 873.5v11"/><path stroke-width="1.15" d="M410.3 873.8l10.4 10.4M410.3 884.2l10.4 -10.4"/>
<path d="M416 881.5h11M421.5 876v11"/><path stroke-width="1.15" d="M416.3 876.3l10.4 10.4M416.3 886.7l10.4 -10.4"/>
<path d="M423 884h11M428.5 878.5v11"/><path stroke-width="1.15" d="M423.3 878.8l10.4 10.4M423.3 889.2l10.4 -10.4"/>
<path d="M429 880h11M434.5 874.5v11"/><path stroke-width="1.15" d="M429.3 874.8l10.4 10.4M429.3 885.2l10.4 -10.4"/>
<path d="M448 869.5h11M453.5 864v11"/><path stroke-width="1.15" d="M448.3 864.3l10.4 10.4M448.3 874.7l10.4 -10.4"/>
<path d="M466 822.5h11M471.5 817v11"/><path stroke-width="1.15" d="M466.3 817.3l10.4 10.4M466.3 827.7l10.4 -10.4"/>
<path d="M485 806.5h11M490.5 801v11"/><path stroke-width="1.15" d="M485.3 801.3l10.4 10.4M485.3 811.7l10.4 -10.4"/>
<path d="M504 800.5h11M509.5 795v11"/><path stroke-width="1.15" d="M504.3 795.3l10.4 10.4M504.3 805.7l10.4 -10.4"/>
<path d="M522 799.5h11M527.5 794v11"/><path stroke-width="1.15" d="M522.3 794.3l10.4 10.4M522.3 804.7l10.4 -10.4"/>
<path d="M541 812.5h11M546.5 807v11"/><path stroke-width="1.15" d="M541.3 807.3l10.4 10.4M541.3 817.7l10.4 -10.4"/>
<path d="M560 820.5h11M565.5 815v11"/><path stroke-width="1.15" d="M560.3 815.3l10.4 10.4M560.3 825.7l10.4 -10.4"/>
<path d="M578 815.5h11M583.5 810v11"/><path stroke-width="1.15" d="M578.3 810.3l10.4 10.4M578.3 820.7l10.4 -10.4"/>
<path d="M597 794.5h11M602.5 789v11"/><path stroke-width="1.15" d="M597.3 789.3l10.4 10.4M597.3 799.7l10.4 -10.4"/>
<path d="M615 684h11M620.5 678.5v11"/><path stroke-width="1.15" d="M615.3 678.8l10.4 10.4M615.3 689.2l10.4 -10.4"/>
<path d="M634 549.5h11M639.5 544v11"/><path stroke-width="1.15" d="M634.3 544.3l10.4 10.4M634.3 554.7l10.4 -10.4"/>
<path d="M653 566.5h11M658.5 561v11"/><path stroke-width="1.15" d="M653.3 561.3l10.4 10.4M653.3 571.7l10.4 -10.4"/>
<path d="M671 675.5h11M676.5 670v11"/><path stroke-width="1.15" d="M671.3 670.3l10.4 10.4M671.3 680.7l10.4 -10.4"/>
<path d="M690 753.5h11M695.5 748v11"/><path stroke-width="1.15" d="M690.3 748.3l10.4 10.4M690.3 758.7l10.4 -10.4"/>
<path d="M709 792.3h11M714.5 786.8v11"/><path stroke-width="1.15" d="M709.3 787.1l10.4 10.4M709.3 797.5l10.4 -10.4"/>
<path d="M727 816.4h11M732.5 810.9v11"/><path stroke-width="1.15" d="M727.3 811.2l10.4 10.4M727.3 821.6l10.4 -10.4"/>
<path d="M746 820.4h11M751.5 814.9v11"/><path stroke-width="1.15" d="M746.3 815.2l10.4 10.4M746.3 825.6l10.4 -10.4"/>
<path d="M765 762.7h11M770.5 757.2v11"/><path stroke-width="1.15" d="M765.3 757.5l10.4 10.4M765.3 767.9l10.4 -10.4"/>
<path d="M783 711.5h11M788.5 706v11"/><path stroke-width="1.15" d="M783.3 706.3l10.4 10.4M783.3 716.7l10.4 -10.4"/>
<path d="M802 690.5h11M807.5 685v11"/><path stroke-width="1.15" d="M802.3 685.3l10.4 10.4M802.3 695.7l10.4 -10.4"/>
<path d="M821 757.5h11M826.5 752v11"/><path stroke-width="1.15" d="M821.3 752.3l10.4 10.4M821.3 762.7l10.4 -10.4"/>
<path d="M839 812.5h11M844.5 807v11"/><path stroke-width="1.15" d="M839.3 807.3l10.4 10.4M839.3 817.7l10.4 -10.4"/>
<path d="M858 828.5h11M863.5 823v11"/><path stroke-width="1.15" d="M858.3 823.3l10.4 10.4M858.3 833.7l10.4 -10.4"/>
<path d="M877 826.6h11M882.5 821.1v11"/><path stroke-width="1.15" d="M877.3 821.4l10.4 10.4M877.3 831.8l10.4 -10.4"/>
<path d="M895 815.6h11M900.5 810.1v11"/><path stroke-width="1.15" d="M895.3 810.4l10.4 10.4M895.3 820.8l10.4 -10.4"/>
<path d="M914 741.7h11M919.5 736.2v11"/><path stroke-width="1.15" d="M914.3 736.5l10.4 10.4M914.3 746.9l10.4 -10.4"/>
<path d="M933 691.3h11M938.5 685.8v11"/><path stroke-width="1.15" d="M933.3 686.1l10.4 10.4M933.3 696.5l10.4 -10.4"/>
<path d="M951 687.3h11M956.5 681.8v11"/><path stroke-width="1.15" d="M951.3 682.1l10.4 10.4M951.3 692.5l10.4 -10.4"/>
<path d="M970 766.7h11M975.5 761.2v11"/><path stroke-width="1.15" d="M970.3 761.5l10.4 10.4M970.3 771.9l10.4 -10.4"/>
<path d="M989 823.7h11M994.5 818.2v11"/><path stroke-width="1.15" d="M989.3 818.5l10.4 10.4M989.3 828.9l10.4 -10.4"/>
<path d="M1007 845.7h11M1012.5 840.2v11"/><path stroke-width="1.15" d="M1007.3 840.5l10.4 10.4M1007.3 850.9l10.4 -10.4"/>
<path d="M1026 859.6h11M1031.5 854.1v11"/><path stroke-width="1.15" d="M1026.3 854.4l10.4 10.4M1026.3 864.8l10.4 -10.4"/>
<path d="M1045 858.8h11M1050.5 853.3v11"/><path stroke-width="1.15" d="M1045.3 853.6l10.4 10.4M1045.3 864l10.4 -10.4"/>
<path d="M1063 811.6h11M1068.5 806.1v11"/><path stroke-width="1.15" d="M1063.3 806.4l10.4 10.4M1063.3 816.8l10.4 -10.4"/>
<path d="M1082 775.7h11M1087.5 770.2v11"/><path stroke-width="1.15" d="M1082.3 770.5l10.4 10.4M1082.3 780.9l10.4 -10.4"/>
<path d="M1101 768.4h11M1106.5 762.9v11"/><path stroke-width="1.15" d="M1101.3 763.2l10.4 10.4M1101.3 773.6l10.4 -10.4"/>
<path d="M1119 828.5h11M1124.5 823v11"/><path stroke-width="1.15" d="M1119.3 823.3l10.4 10.4M1119.3 833.7l10.4 -10.4"/>
<path d="M1138 854.5h11M1143.5 849v11"/><path stroke-width="1.15" d="M1138.3 849.3l10.4 10.4M1138.3 859.7l10.4 -10.4"/>
<path d="M1157 863h11M1162.5 857.5v11"/><path stroke-width="1.15" d="M1157.3 857.8l10.4 10.4M1157.3 868.2l10.4 -10.4"/>
<path d="M1175 860.6h11M1180.5 855.1v11"/><path stroke-width="1.15" d="M1175.3 855.4l10.4 10.4M1175.3 865.8l10.4 -10.4"/>
<path d="M1194 860.6h11M1199.5 855.1v11"/><path stroke-width="1.15" d="M1194.3 855.4l10.4 10.4M1194.3 865.8l10.4 -10.4"/>
<path d="M1213 838.7h11M1218.5 833.2v11"/><path stroke-width="1.15" d="M1213.3 833.5l10.4 10.4M1213.3 843.9l10.4 -10.4"/>
<path d="M1231 774.7h11M1236.5 769.2v11"/><path stroke-width="1.15" d="M1231.3 769.5l10.4 10.4M1231.3 779.9l10.4 -10.4"/>
<path d="M1250 731.6h11M1255.5 726.1v11"/><path stroke-width="1.15" d="M1250.3 726.4l10.4 10.4M1250.3 736.8l10.4 -10.4"/>
<path d="M1269 774.7h11M1274.5 769.2v11"/><path stroke-width="1.15" d="M1269.3 769.5l10.4 10.4M1269.3 779.9l10.4 -10.4"/>
<path d="M1287 803.7h11M1292.5 798.2v11"/><path stroke-width="1.15" d="M1287.3 798.5l10.4 10.4M1287.3 808.9l10.4 -10.4"/>
<path d="M1306 809.6h11M1311.5 804.1v11"/><path stroke-width="1.15" d="M1306.3 804.4l10.4 10.4M1306.3 814.8l10.4 -10.4"/>
<path d="M1325 807.7h11M1330.5 802.2v11"/><path stroke-width="1.15" d="M1325.3 802.5l10.4 10.4M1325.3 812.9l10.4 -10.4"/>
<path d="M1343 796.7h11M1348.5 791.2v11"/><path stroke-width="1.15" d="M1343.3 791.5l10.4 10.4M1343.3 801.9l10.4 -10.4"/>
<path d="M1362 757.7h11M1367.5 752.2v11"/><path stroke-width="1.15" d="M1362.3 752.5l10.4 10.4M1362.3 762.9l10.4 -10.4"/>
<path d="M1381 677.6h11M1386.5 672.1v11"/><path stroke-width="1.15" d="M1381.3 672.4l10.4 10.4M1381.3 682.8l10.4 -10.4"/>
<path d="M1399 670.4h11M1404.5 664.9v11"/><path stroke-width="1.15" d="M1399.3 665.2l10.4 10.4M1399.3 675.6l10.4 -10.4"/>
<path d="M1437 797.5h11M1442.5 792v11"/><path stroke-width="1.15" d="M1437.3 792.3l10.4 10.4M1437.3 802.7l10.4 -10.4"/>
</g>
<g fill="#00ffff">
<path d="M1388.5 311.3l5.8 -10.4h-11.6z"/>
<path d="M210.5 744.4l5.8 -10.4h-11.6z"/>
<path d="M216.5 739.4l5.8 -10.4h-11.6z"/>
<path d="M222.5 749.4l5.8 -10.4h-11.6z"/>
<path d="M229.5 745.4l5.8 -10.4h-11.6z"/>
<path d="M235.5 757.4l5.8 -10.4h-11.6z"/>
<path d="M241.5 697.5l5.8 -10.4h-11.6z"/>
<path d="M247.5 698.2l5.8 -10.4h-11.6z"/>
<path d="M254.5 761.2l5.8 -10.4h-11.6z"/>
<path d="M260.5 746.4l5.8 -10.4h-11.6z"/>
<path d="M266.5 750.4l5.8 -10.4h-11.6z"/>
<path d="M272.5 768.4l5.8 -10.4h-11.6z"/>
<path d="M278.5 786.2l5.8 -10.4h-11.6z"/>
<path d="M285.5 801.4l5.8 -10.4h-11.6z"/>
<path d="M291.5 818.4l5.8 -10.4h-11.6z"/>
<path d="M297.5 835.9l5.8 -10.4h-11.6z"/>
<path d="M303.5 858.4l5.8 -10.4h-11.6z"/>
<path d="M309.5 846.4l5.8 -10.4h-11.6z"/>
<path d="M316.5 835.4l5.8 -10.4h-11.6z"/>
<path d="M322.5 832.4l5.8 -10.4h-11.6z"/>
<path d="M328.5 769.4l5.8 -10.4h-11.6z"/>
<path d="M334.5 748.4l5.8 -10.4h-11.6z"/>
<path d="M341.5 751.4l5.8 -10.4h-11.6z"/>
<path d="M347.5 743.4l5.8 -10.4h-11.6z"/>
<path d="M353.5 725.4l5.8 -10.4h-11.6z"/>
<path d="M359.5 715.4l5.8 -10.4h-11.6z"/>
<path d="M365.5 719.4l5.8 -10.4h-11.6z"/>
<path d="M372.5 751.4l5.8 -10.4h-11.6z"/>
<path d="M378.5 766.4l5.8 -10.4h-11.6z"/>
<path d="M384.5 782.4l5.8 -10.4h-11.6z"/>
<path d="M390.5 791.4l5.8 -10.4h-11.6z"/>
<path d="M397.5 803.4l5.8 -10.4h-11.6z"/>
<path d="M403.5 820.4l5.8 -10.4h-11.6z"/>
<path d="M409.5 838.6l5.8 -10.4h-11.6z"/>
<path d="M415.5 850.4l5.8 -10.4h-11.6z"/>
<path d="M421.5 859.4l5.8 -10.4h-11.6z"/>
<path d="M428.5 881.4l5.8 -10.4h-11.6z"/>
<path d="M434.5 891.4l5.8 -10.4h-11.6z"/>
<path d="M440.5 895.4l5.8 -10.4h-11.6z"/>
<path d="M446.5 888.4l5.8 -10.4h-11.6z"/>
<path d="M453.5 868.4l5.8 -10.4h-11.6z"/>
<path d="M459.5 869.4l5.8 -10.4h-11.6z"/>
<path d="M465.5 847.4l5.8 -10.4h-11.6z"/>
<path d="M471.5 814.4l5.8 -10.4h-11.6z"/>
<path d="M477.5 779.4l5.8 -10.4h-11.6z"/>
<path d="M484.5 777.4l5.8 -10.4h-11.6z"/>
<path d="M490.5 800.4l5.8 -10.4h-11.6z"/>
<path d="M496.5 827.4l5.8 -10.4h-11.6z"/>
<path d="M502.5 819.4l5.8 -10.4h-11.6z"/>
<path d="M509.5 797.4l5.8 -10.4h-11.6z"/>
<path d="M515.5 737.4l5.8 -10.4h-11.6z"/>
<path d="M521.5 763.4l5.8 -10.4h-11.6z"/>
<path d="M527.5 761.4l5.8 -10.4h-11.6z"/>
<path d="M533.5 780.4l5.8 -10.4h-11.6z"/>
<path d="M540.5 785.4l5.8 -10.4h-11.6z"/>
<path d="M546.5 790.4l5.8 -10.4h-11.6z"/>
<path d="M552.5 803.4l5.8 -10.4h-11.6z"/>
<path d="M558.5 803.4l5.8 -10.4h-11.6z"/>
<path d="M565.5 775.4l5.8 -10.4h-11.6z"/>
<path d="M571.5 756.4l5.8 -10.4h-11.6z"/>
<path d="M577.5 753.4l5.8 -10.4h-11.6z"/>
<path d="M583.5 770.4l5.8 -10.4h-11.6z"/>
<path d="M589.5 758.4l5.8 -10.4h-11.6z"/>
<path d="M596.5 740.4l5.8 -10.4h-11.6z"/>
<path d="M602.5 747.4l5.8 -10.4h-11.6z"/>
<path d="M608.5 758.4l5.8 -10.4h-11.6z"/>
<path d="M614.5 709.4l5.8 -10.4h-11.6z"/>
<path d="M620.5 696.4l5.8 -10.4h-11.6z"/>
<path d="M627.5 687.4l5.8 -10.4h-11.6z"/>
<path d="M633.5 621.4l5.8 -10.4h-11.6z"/>
<path d="M639.5 582.4l5.8 -10.4h-11.6z"/>
<path d="M645.5 567.4l5.8 -10.4h-11.6z"/>
<path d="M652.5 547.4l5.8 -10.4h-11.6z"/>
<path d="M658.5 540.4l5.8 -10.4h-11.6z"/>
</g>
</svg>
</body></html>
